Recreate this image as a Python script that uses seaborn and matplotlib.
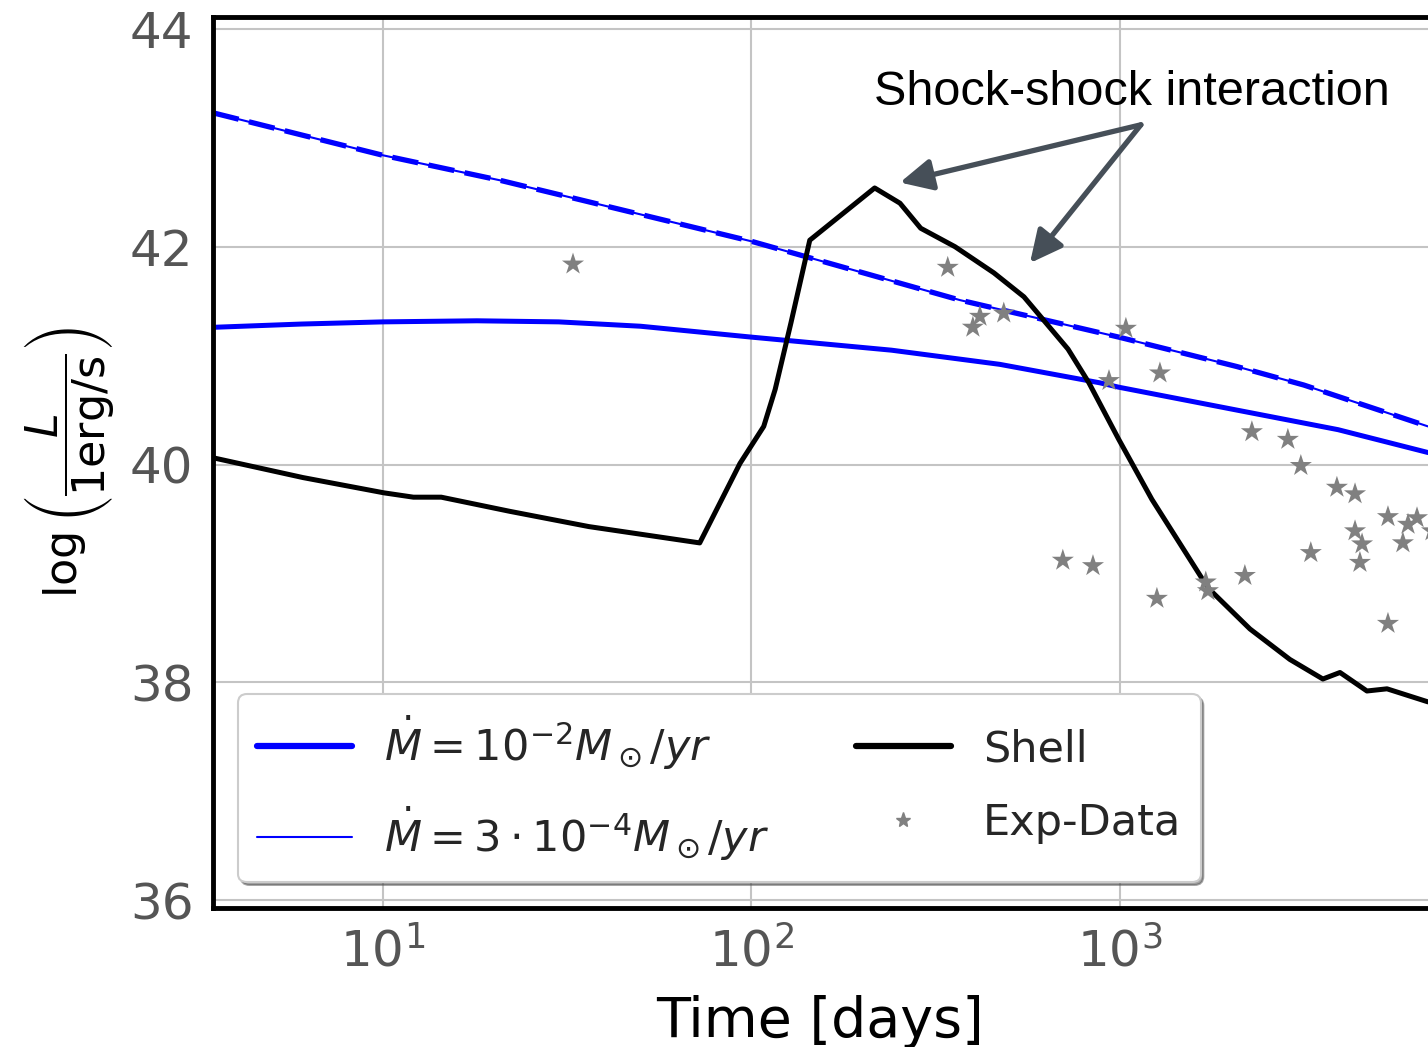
import numpy as np
import matplotlib
matplotlib.use("Agg")
import matplotlib.pyplot as plt
import seaborn as sns
from matplotlib.lines import Line2D

# wind model, Mdot = 1e-2 (solid)
t_wind = [3.46, 6, 10, 18, 30, 50, 100, 240, 472, 883, 993, 2075, 3908, 6855]
L_wind = [41.26, 41.29, 41.31, 41.32, 41.31, 41.27, 41.17, 41.05, 40.92, 40.75, 40.71, 40.50, 40.32, 40.11]

# wind model, Mdot = 3e-4 (dashed)
t_wind2 = [3.46, 10, 20.8, 100, 368, 993, 2075, 3155, 6855]
L_wind2 = [43.23, 42.84, 42.61, 42.05, 41.51, 41.17, 40.90, 40.73, 40.35]

# shell model
t_shell = [3.48, 6.07, 10.06, 12.1, 14.4, 22.1, 36.2, 72.4, 93.1, 108, 116, 128, 144, 216,
           253, 288, 357, 455, 549, 723, 824, 993, 1221, 1680, 1754, 2253, 2891, 3554,
           3955, 4680, 5306, 6855]
L_shell = [40.06, 39.88, 39.74, 39.70, 39.70, 39.57, 39.43, 39.28, 40.01, 40.35, 40.69, 41.30,
           42.06, 42.54, 42.40, 42.17, 42.00, 41.76, 41.54, 41.06, 40.75, 40.23, 39.68, 38.94,
           38.85, 38.49, 38.21, 38.03, 38.09, 37.92, 37.94, 37.82]

# observed data
t_obs = [32.8, 341, 417, 399, 484, 1038, 934, 1284, 2281, 2856, 3097, 3880, 4345, 5338,
         6050, 6400, 7030, 4345, 4540, 5860, 3296, 4480, 700, 845, 1260, 1710, 1733, 2183, 5338]
L_obs = [41.84, 41.81, 41.36, 41.26, 41.39, 41.25, 40.77, 40.84, 40.30, 40.23, 39.99, 39.79,
         39.73, 39.52, 39.45, 39.51, 39.39, 39.39, 39.27, 39.28, 39.19, 39.10, 39.12, 39.07,
         38.77, 38.92, 38.84, 38.98, 38.54]

sns.set_style("whitegrid")
plt.rcParams['font.family'] = ['DejaVu Sans']
plt.rcParams['mathtext.fontset'] = 'dejavusans'

fig = plt.figure(figsize=(14.28, 10.47), dpi=100)
ax = fig.add_axes([213 / 1428, 139 / 1047, 1215 / 1428, 891 / 1047])

blue = '#0000ff'
sns.lineplot(x=t_wind, y=L_wind, ax=ax, color=blue, lw=3.6, sort=False)
sns.lineplot(x=t_wind2, y=L_wind2, ax=ax, color=blue, lw=1.5, sort=False)
sns.lineplot(x=t_wind2, y=L_wind2, ax=ax, color=blue, lw=3.8, sort=False,
             linestyle=(0, (5, 2)))
sns.lineplot(x=t_shell, y=L_shell, ax=ax, color='black', lw=3.6, sort=False)
sns.scatterplot(x=t_obs, y=L_obs, ax=ax, color='#808080', marker='*', s=280,
                edgecolor='none', zorder=3)

ax.set_xscale('log')
ax.set_xlim(3.459, 6855)
ax.set_ylim(35.927, 44.11)
ax.set_yticks([36, 38, 40, 42, 44])
ax.xaxis.set_minor_locator(matplotlib.ticker.NullLocator())
ax.grid(True, color='#c4c4c4', lw=1.5)
ax.tick_params(axis='both', labelsize=36, labelcolor='#555555', length=0, pad=14)

for side in ['left', 'top', 'bottom']:
    ax.spines[side].set_color('black')
    ax.spines[side].set_linewidth(3.5)
ax.spines['right'].set_visible(False)

ax.set_xlabel('Time [days]', fontsize=40, color='black', labelpad=13)
ax.set_ylabel(r'$\log\left(\dfrac{L}{1\mathrm{erg/s}}\right)$', fontsize=32,
              color='black', labelpad=10)

arrow_c = '#464f58'
ax.text(215, 43.30, 'Shock-shock interaction', fontsize=35, va='baseline',
        family=['Liberation Sans', 'DejaVu Sans'], color='black')
for head in [(253, 42.59), (570, 41.85)]:
    ax.annotate('', xy=head, xytext=(1140, 43.12),
                arrowprops=dict(arrowstyle='-|>,head_length=0.65,head_width=0.32',
                                color=arrow_c, lw=3.8, mutation_scale=30,
                                shrinkA=0, shrinkB=0))

handles = [
    Line2D([], [], color=blue, lw=4.5),
    Line2D([], [], color=blue, lw=1.5),
    Line2D([], [], color='black', lw=4.5),
    Line2D([], [], color='#808080', marker='*', ls='none', ms=11),
]
labels = [r'$\dot{M} = 10^{-2}M_\odot/yr$', r'$\dot{M} = 3\cdot10^{-4}M_\odot/yr$',
          'Shell', 'Exp-Data']
leg = ax.legend(handles, labels, loc='lower left', bbox_to_anchor=(0.0206, 0.029),
                borderaxespad=0, ncol=2, fontsize=31, frameon=True, fancybox=True,
                shadow=True, framealpha=1, edgecolor='#cccccc', handlelength=2.2,
                handletextpad=0.75, columnspacing=2.0, borderpad=0.45,
                labelspacing=0.75)
leg.get_frame().set_linewidth(1.5)

fig.savefig('out.png', dpi=100)
